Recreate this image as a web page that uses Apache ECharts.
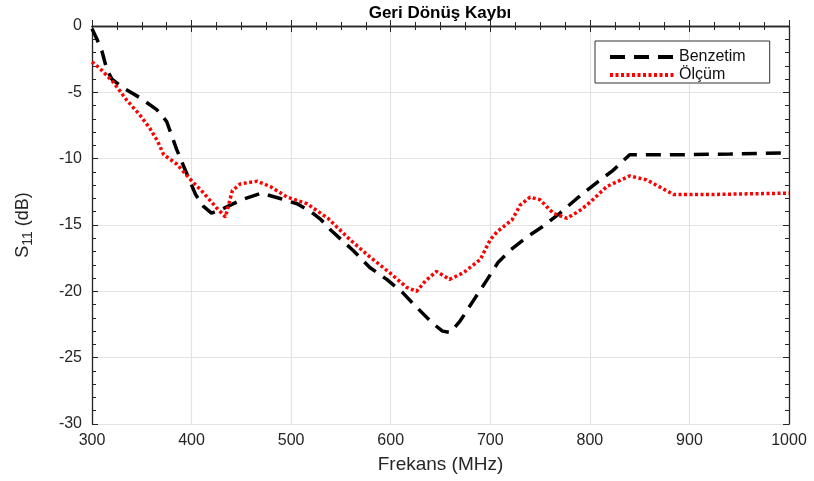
<!DOCTYPE html>
<html>
<head>
<meta charset="utf-8">
<script src="https://cdn.jsdelivr.net/npm/echarts@6/dist/echarts.min.js"></script>
<style>html,body{margin:0;padding:0;background:#fff}#c{width:814px;height:481px}</style>
</head>
<body>
<div id="c"></div>
<script>
const titleText = 'Geri Dönüş Kaybı';
const xName = 'Frekans (MHz)';
const seriesNames = ['Benzetim', 'Ölçüm'];
const simFreq = [300,305,310,315,320,330,348,365,375,385,395,404,412,420,428,439,450,462,470,489,506,520,530,540,562,579,596,612,626,642,652,660,670,683,697,708,720,737,753,770,787,807,823,840,863,900,941,1000];
const simS11 = [-0.2,-1.0,-1.9,-3.3,-4.0,-4.6,-5.4,-6.3,-7.2,-9.3,-11.1,-12.7,-13.6,-14.1,-13.9,-13.5,-13.1,-12.8,-12.6,-13.0,-13.4,-14.0,-14.6,-15.4,-16.9,-18.2,-19.1,-20.1,-21.2,-22.4,-23.0,-23.1,-22.2,-20.7,-19.1,-17.8,-16.9,-15.9,-15.1,-14.1,-13.0,-11.8,-10.9,-9.7,-9.7,-9.7,-9.65,-9.55];
const measFreq = [300,308,321,335,348,358,366,372,385,398,411,425,434,441,449,466,479,496,516,537,559,579,599,616,626,635,646,659,673,690,700,707,722,730,740,750,763,777,790,800,817,840,857,884,924,960,1000];
const measS11 = [-2.7,-3.2,-4.2,-5.6,-6.7,-7.7,-8.7,-9.7,-10.4,-11.5,-12.5,-13.7,-14.4,-12.4,-11.9,-11.7,-12.1,-12.9,-13.4,-14.5,-16.1,-17.4,-18.6,-19.7,-20.0,-19.2,-18.5,-19.1,-18.6,-17.6,-16.1,-15.5,-14.6,-13.5,-12.9,-13.1,-14.1,-14.5,-13.9,-13.3,-12.1,-11.3,-11.6,-12.7,-12.7,-12.65,-12.6];

const font = 'Liberation Sans, Arial, sans-serif';
const axisColor = '#262626';
const chart = echarts.init(document.getElementById('c'), null, {renderer: 'canvas'});

function zip(xs, ys) { return xs.map((x, i) => [x, ys[i]]); }
const plain = v => String(v);

const baseAxisLine = {show: true, lineStyle: {color: axisColor, width: 1.3}};
chart.setOption({
  backgroundColor: '#fff',
  animation: false,
  title: {
    text: titleText, left: 440, top: 5, padding: 0, textAlign: 'center',
    textStyle: {fontFamily: font, fontWeight: 'bold', fontSize: 17, lineHeight: 17, color: '#000'}
  },
  legend: {
    orient: 'vertical', left: 595, top: 41,
    padding: [8, 24, 0, 13], itemGap: 2,
    itemWidth: 64, itemHeight: 12,
    borderColor: '#333', borderWidth: 1, backgroundColor: '#fff',
    itemStyle: {opacity: 0},
    lineStyle: {width: 4},
    textStyle: {fontFamily: font, fontSize: 16, color: '#111'},
    data: seriesNames
  },
  grid: {left: 92, right: 25, top: 26, bottom: 57, containLabel: false},
  xAxis: [{
    type: 'value', min: 300, max: 1000, interval: 100,
    name: xName, nameLocation: 'middle', nameGap: 31,
    nameTextStyle: {fontFamily: font, fontSize: 19, color: axisColor},
    axisLine: baseAxisLine,
    axisTick: {inside: true, length: 6, lineStyle: {color: axisColor}},
    minorTick: {show: true, splitNumber: 4, length: 4, lineStyle: {color: axisColor}},
    axisLabel: {fontFamily: font, fontSize: 16, color: axisColor, margin: 9, formatter: plain},
    splitLine: {show: true, lineStyle: {color: '#e3e3e3', width: 1.2}}
  }, {
    type: 'value', position: 'top', min: 300, max: 1000, interval: 100,
    axisLine: baseAxisLine,
    axisTick: {inside: true, length: 6, lineStyle: {color: axisColor}},
    minorTick: {show: true, splitNumber: 4, length: 4, lineStyle: {color: axisColor}},
    axisLabel: {show: false}, splitLine: {show: false}
  }],
  yAxis: [{
    type: 'value', min: -30, max: 0, interval: 5,
    name: '{a|S}{b|11} (dB)', nameLocation: 'middle', nameGap: 57, nameRotate: 90,
    nameTextStyle: {
      fontFamily: font, fontSize: 18, color: axisColor,
      rich: {a: {fontFamily: font, fontSize: 18, color: axisColor},
             b: {fontFamily: font, fontSize: 14, color: axisColor, verticalAlign: 'bottom', padding: [10, 0, 0, 0]}}
    },
    axisLine: baseAxisLine,
    axisTick: {inside: true, length: 6, lineStyle: {color: axisColor}},
    minorTick: {show: true, splitNumber: 5, length: 4, lineStyle: {color: axisColor}},
    axisLabel: {fontFamily: font, fontSize: 16, color: axisColor, margin: 10, formatter: plain},
    splitLine: {show: true, lineStyle: {color: '#e3e3e3', width: 1.2}}
  }, {
    type: 'value', position: 'right', min: -30, max: 0, interval: 5,
    axisLine: baseAxisLine,
    axisTick: {inside: true, length: 6, lineStyle: {color: axisColor}},
    minorTick: {show: true, splitNumber: 5, length: 4, lineStyle: {color: axisColor}},
    axisLabel: {show: false}, splitLine: {show: false}
  }],
  series: [{
    name: seriesNames[0], type: 'line', data: zip(simFreq, simS11),
    showSymbol: false, symbol: 'none', smooth: false, z: 3,
    lineStyle: {color: '#000', width: 3.5, type: [15, 9]},
    itemStyle: {color: '#000'}
  }, {
    name: seriesNames[1], type: 'line', data: zip(measFreq, measS11),
    showSymbol: false, symbol: 'none', smooth: false, z: 4,
    lineStyle: {color: '#ff0000', width: 3.5, type: [3, 2.5]},
    itemStyle: {color: '#ff0000'}
  }]
});
</script>
</body>
</html>
